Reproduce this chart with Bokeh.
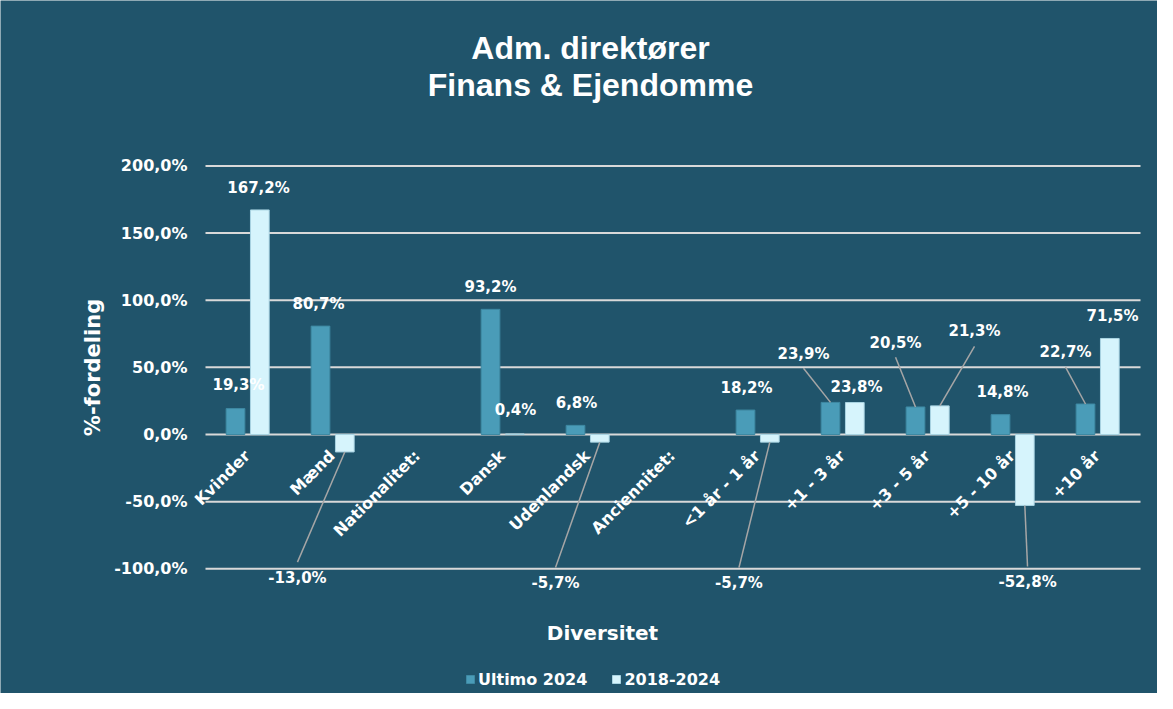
import math
from bokeh.plotting import figure
from bokeh.models import Range1d, Label, Legend, LegendItem, ColumnDataSource
from bokeh.core.properties import value
from bokeh.embed import file_html
from bokeh.resources import INLINE

# ---------------- data ----------------
categories = ["Kvinder", "Mænd", "Nationalitet:", "Dansk", "Udenlandsk", "Anciennitet:",
              "<1 år - 1 år", "+1 - 3 år", "+3 - 5 år", "+5 - 10 år", "+10 år"]
ultimo_2024 = [19.3, 80.7, None, 93.2, 6.8, None, 18.2, 23.9, 20.5, 14.8, 22.7]
change_2018_2024 = [167.2, -13.0, None, 0.4, -5.7, None, -5.7, 23.8, 21.3, -52.8, 71.5]
series_names = ["Ultimo 2024", "2018-2024"]
y_ticks = [-100, -50, 0, 50, 100, 150, 200]
title_lines = ["Adm. direktører", "Finans & Ejendomme"]
y_title = "%-fordeling"
x_title = "Diversitet"

# ---------------- label layout (offsets, not data) ----------------
lab_dx_u = [-0.112, -0.171, 0, -0.147, -0.135, 0, -0.135, -0.465, -0.382, -0.124, -0.382]
lab_y_u = [36.5, 97.5, 0, 110.2, 23.8, 0, 34.3, 60.3, 68.5, 31.3, 61.1]
lead_u = [False, False, False, False, False, False, False, True, True, False, True]
lab_dx_l = [0.124, -0.418, 0, 0.147, -0.382, 0, -0.224, 0.159, 0.547, 0.171, 0.171]
lab_y_l = [183.9, -106.5, 0, 17.9, -110.6, 0, -110.6, 35.0, 76.7, -109.8, 87.9]
lead_l = [False, True, False, False, True, False, True, False, True, True, False]

BG = "#20546B"
C_U = "#4A9CB8"
C_L = "#D6F4FC"
GRID = "#D9D9D9"
LEAD = "#A6A6A6"
FONT = "DejaVu Sans"
TFONT = "Liberation Sans"

OFF_U, OFF_L, BW = -0.147, 0.139, 0.22

# canvas geometry (pixels): plot-area origin and scale
W, H = 1157, 693
X0_PX, CAT_PX = 205.0, 85.0      # left edge of plot area, width of one category
Y0_PX, PX_PER = 434.0, 1.343     # pixel row of 0 %, pixels per percent


def fmt(v):
    return f"{v:.1f}".replace(".", ",") + "%"


p = figure(width=W, height=H, output_backend="svg", toolbar_location=None,
           x_range=Range1d(-0.5 - X0_PX / CAT_PX, -0.5 + (W - X0_PX) / CAT_PX),
           y_range=Range1d((Y0_PX - H) / PX_PER, Y0_PX / PX_PER),
           min_border=0)
p.background_fill_color = BG
p.border_fill_color = BG
p.outline_line_color = None
p.xaxis.visible = False
p.yaxis.visible = False
p.grid.visible = False

n = len(categories)
x_lo, x_hi = -0.5, n - 0.5

# gridlines and y tick labels
p.segment(x0=[x_lo] * len(y_ticks), x1=[x_hi] * len(y_ticks), y0=y_ticks, y1=y_ticks,
          line_color=GRID, line_width=2)
p.text(x=[x_lo - 18 / CAT_PX] * len(y_ticks), y=y_ticks, text=[fmt(t) for t in y_ticks],
       text_align="right", text_baseline="middle", text_color="white",
       text_font=value(FONT), text_font_style="bold", text_font_size="16px")

# bars
idx_u = [i for i, v in enumerate(ultimo_2024) if v is not None]
idx_l = [i for i, v in enumerate(change_2018_2024) if v is not None]
src_u = ColumnDataSource(dict(x=[i + OFF_U for i in idx_u], top=[ultimo_2024[i] for i in idx_u]))
src_l = ColumnDataSource(dict(x=[i + OFF_L for i in idx_l], top=[change_2018_2024[i] for i in idx_l]))
r_u = p.vbar(x="x", top="top", bottom=0, width=BW, source=src_u, fill_color=C_U,
             line_color="#3E89A3", line_width=1)
r_l = p.vbar(x="x", top="top", bottom=0, width=BW, source=src_l, fill_color=C_L,
             line_color="#A9D4E2", line_width=1)

# leader lines
x0, y0, x1, y1 = [], [], [], []
for vals, off, dx, ly, lead in ((ultimo_2024, OFF_U, lab_dx_u, lab_y_u, lead_u),
                                (change_2018_2024, OFF_L, lab_dx_l, lab_y_l, lead_l)):
    for i, v in enumerate(vals):
        if v is None or not lead[i]:
            continue
        x0.append(i + off)
        y0.append(v)
        x1.append(i + dx[i])
        y1.append(ly[i] + (11.5 if v < 0 else -11.0))
p.segment(x0=x0, y0=y0, x1=x1, y1=y1, line_color=LEAD, line_width=1.5)

# data labels
lx, lyy, lt = [], [], []
for vals, dx, ly in ((ultimo_2024, lab_dx_u, lab_y_u), (change_2018_2024, lab_dx_l, lab_y_l)):
    for i, v in enumerate(vals):
        if v is None:
            continue
        lx.append(i + dx[i])
        lyy.append(ly[i])
        lt.append(fmt(v))
p.text(x=lx, y=lyy, text=lt, text_align="center", text_baseline="middle", text_color="white",
       text_font=value(FONT), text_font_style="bold", text_font_size="15px")

# category labels (rotated, next to the zero line)
p.text(x=[i - 0.09 for i in range(n)], y=[-8.8] * n, text=categories, angle=math.pi / 4,
       text_align="right", text_baseline="top", text_color="white",
       text_font=value(FONT), text_font_style="bold", text_font_size="16px")

# titles
for txt, yy in zip(title_lines, ((Y0_PX - 47) / PX_PER, (Y0_PX - 84) / PX_PER)):
    p.add_layout(Label(x=(590 - X0_PX) / CAT_PX - 0.5, y=yy, text=txt, text_align="center",
                       text_baseline="middle", text_color="white", text_font=TFONT,
                       text_font_style="bold", text_font_size="32px"))
p.add_layout(Label(x=(602 - X0_PX) / CAT_PX - 0.5, y=(Y0_PX - 632) / PX_PER, text=x_title,
                   text_align="center", text_baseline="middle", text_color="white",
                   text_font=FONT, text_font_style="bold", text_font_size="20px"))
p.add_layout(Label(x=(92 - X0_PX) / CAT_PX - 0.5, y=(Y0_PX - 367) / PX_PER, text=y_title,
                   angle=math.pi / 2, text_align="center", text_baseline="middle",
                   text_color="white", text_font=FONT, text_font_style="bold",
                   text_font_size="21px"))

# legend
legend = Legend(items=[LegendItem(label=series_names[0], renderers=[r_u]),
                       LegendItem(label=series_names[1], renderers=[r_l])],
                location=(465, H - 689), orientation="horizontal")
legend.padding = 0
legend.margin = 0
legend.spacing = 24
legend.glyph_width = 10
legend.glyph_height = 10
legend.label_height = 20
legend.label_standoff = 3
legend.label_text_font = FONT
legend.label_text_font_style = "bold"
legend.label_text_font_size = "16px"
legend.label_text_color = "white"
legend.border_line_color = None
legend.background_fill_alpha = 0
p.add_layout(legend, "center")

open("out.html", "w").write(file_html(p, INLINE))
